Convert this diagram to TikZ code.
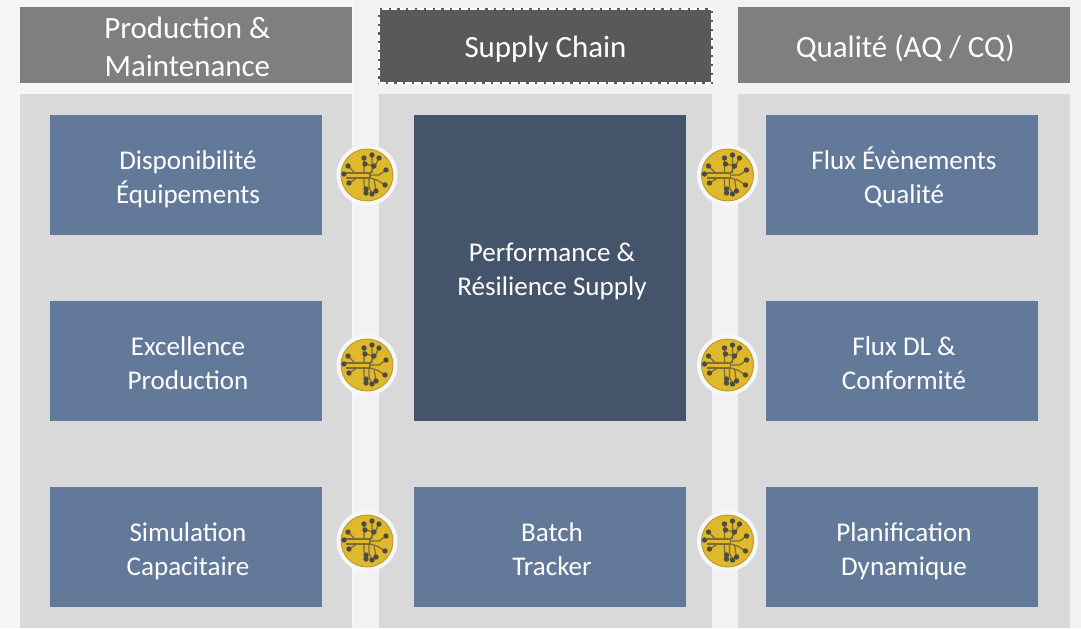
\documentclass[tikz,border=0pt]{standalone}
\usepackage{fontspec}
\setmainfont{Carlito}
\definecolor{bgc}{HTML}{F2F2F2}
\definecolor{bgl}{HTML}{F6F6F6}
\definecolor{head}{HTML}{7F7F7F}
\definecolor{headd}{HTML}{595959}
\definecolor{panel}{HTML}{D9D9D9}
\definecolor{boxc}{HTML}{62799A}
\definecolor{boxd}{HTML}{44546A}
\definecolor{gold}{HTML}{E0B82C}
\definecolor{goldd}{HTML}{B89A30}
\definecolor{trace}{HTML}{7A6C34}
\definecolor{pin}{HTML}{4C4C40}
\definecolor{ring}{HTML}{F7F7F7}
\tikzset{
  x=0.75pt,y=-0.75pt,
  headbox/.style={fill=head,draw=none,anchor=north west,inner sep=0pt,outer sep=0pt,minimum width=249pt,minimum height=57pt},
  headtext/.style={text=white,align=center,font=\fontsize{23.2}{28.5}\selectfont,xshift=1pt,yshift=-3.4pt},
  panelbox/.style={fill=panel,draw=none},
  tile/.style={fill=boxc,draw=none,inner sep=0pt,outer sep=0pt,anchor=north west,minimum width=204pt,minimum height=90pt},
  tiletext/.style={text=white,align=center,font=\fontsize{20.3}{25.5}\selectfont,xshift=1.5pt,yshift=-3.4pt},
  trc/.style={draw=trace,line width=0.9pt},
  dot/.style={fill=pin,draw=none},
}
\newcommand{\badge}[3]{%
  \node[circle,fill=ring,draw=none,minimum size=45.75pt,inner sep=0pt] (#3) at (#1,#2) {};
  \begin{scope}[shift={(#1,#2)}]
    \fill[gold] (0,0) circle (26);
    \draw[goldd,line width=0.7pt] (0,0) circle (26);
    \draw[trc,line width=1.1pt] (-21,-2)--(3,-2) (-21,3)--(3,3) (3,-2)--(3,3);
    \draw[trc] (3,-2)--(8,-9)--(12,-17) (3,0)--(12,0)--(19,-5) (3,3)--(10,5)--(18,10)
      (-3,-2)--(-3,-17) (5,-2)--(5,-20) (-2,-11)--(7,-9)
      (-3,3)--(-3,10)--(-1,18) (2,3)--(2,12)--(5,19) (7,4)--(9,16) (-10,3)--(-18,8)
      (-12,-2)--(-19,-9);
    \foreach \a/\b in {-3/-17,5/-20,12/-17,-2/-11,7/-9,19/-5,-19/-9,-23/-1,-18/8,18/10,-1/14,5/19,-1/18,9/16}
      \fill[dot] (\a,\b) circle (2.7);
  \end{scope}}
\begin{document}
\begin{tikzpicture}
\useasboundingbox (0,0) rectangle (1081,628);
\fill[bgc] (0,0) rectangle (1081,628);
\fill[bgl] (0,0) rectangle (325,628);
\fill[bgl] (355,0) -- (325,0) -- (0,300) -- (0,628) -- (355,628) -- cycle;
% panels
\fill[panelbox] (20,94) rectangle (352,628);
\fill[panelbox] (379,94) rectangle (712,628);
\fill[panelbox] (738,94) rectangle (1070,628);
% headers
\node[headbox,label={[headtext]center:\strut Production \&\\Maintenance\strut}] (h1) at (20,7) {};
\node[headbox,fill=headd,minimum width=249.75pt,minimum height=55.5pt,draw=white,line width=1pt,dash pattern=on 5pt off 1.6pt,preaction={draw=headd,solid},label={[headtext,xshift=-1pt,yshift=0.4pt]center:\strut Supply Chain\strut}] (h2) at (379,9) {};
\node[headbox,label={[headtext]center:\strut Qualité (AQ / CQ)\strut}] (h3) at (738,7) {};
% tiles
\node[tile,label={[tiletext]center:\strut Disponibilité\\Équipements\strut}] (a1) at (50,115) {};
\node[tile,label={[tiletext]center:\strut Excellence\\Production\strut}] (a2) at (50,301) {};
\node[tile,label={[tiletext]center:\strut Simulation\\Capacitaire\strut}] (a3) at (50,487) {};
\node[tile,fill=boxd,minimum height=229.5pt,label={[tiletext,yshift=0.5pt]center:\strut Performance \&\\Résilience Supply\strut}] (b1) at (414,115) {};
\node[tile,label={[tiletext]center:\strut Batch\\Tracker\strut}] (b3) at (414,487) {};
\node[tile,label={[tiletext]center:\strut Flux Évènements\\Qualité\strut}] (c1) at (766,115) {};
\node[tile,label={[tiletext]center:\strut Flux DL \&\\Conformité\strut}] (c2) at (766,301) {};
\node[tile,label={[tiletext]center:\strut Planification\\Dynamique\strut}] (c3) at (766,487) {};
% badges
\badge{367}{175}{k1}
\badge{367}{365}{k2}
\badge{367}{541}{k3}
\badge{727.5}{175}{k4}
\badge{727.5}{365}{k5}
\badge{727.5}{541}{k6}
\end{tikzpicture}
\end{document}
